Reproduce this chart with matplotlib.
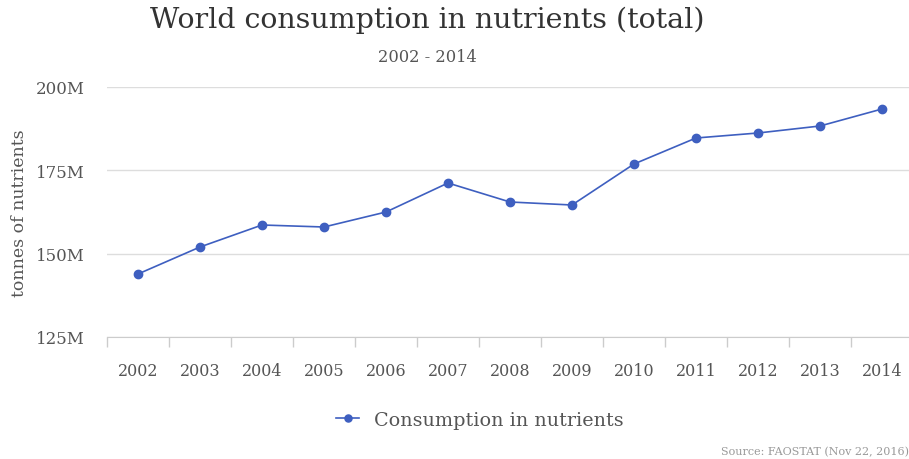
import matplotlib.pyplot as plt
from matplotlib.ticker import FuncFormatter

years = ["2002", "2003", "2004", "2005", "2006", "2007", "2008",
         "2009", "2010", "2011", "2012", "2013", "2014"]
consumption = [143.9, 152.0, 158.6, 158.0, 162.5, 171.2, 165.5,
               164.6, 176.9, 184.7, 186.2, 188.3, 193.4]  # millions of tonnes
y_ticks = [125, 150, 175, 200]

W, H = 909, 460
line_col = "#3e5fc0"
txt_col = "#555555"
grid_col = "#dddddd"

plt.rcParams["font.family"] = ["DejaVu Serif"]

fig = plt.figure(figsize=(W / 100, H / 100), dpi=100)
x0, x1 = 107, 913
ytop, ybot = 88, 338
ax = fig.add_axes([x0 / W, 1 - ybot / H, (x1 - x0) / W, (ybot - ytop) / H])

xs = list(range(len(years)))
ax.plot(xs, consumption, color=line_col, lw=1.2, marker="o", ms=6,
        clip_on=False, zorder=3, label="Consumption in nutrients")

ax.set_xlim(-0.5, len(years) - 0.5)
ax.set_ylim(125, 200)
ax.set_yticks(y_ticks)
ax.yaxis.set_major_formatter(FuncFormatter(lambda v, p: "%dM" % v))
ax.grid(axis="y", color=grid_col, lw=1)
ax.set_axisbelow(True)

# band boundaries as major ticks, years as labels at band centres
ax.set_xticks([i + 0.5 for i in range(-1, len(years))], minor=False)
ax.set_xticklabels([])
ax.set_xticks(xs, minor=True)
ax.set_xticklabels(years, minor=True)
ax.tick_params(axis="x", which="major", length=7, color="#cccccc", width=1)
ax.tick_params(axis="x", which="minor", length=0, pad=18, labelsize=11.5, labelcolor=txt_col)
ax.tick_params(axis="y", length=0, pad=16, labelsize=12, labelcolor=txt_col)

for s in ["top", "right", "left"]:
    ax.spines[s].set_visible(False)
ax.spines["bottom"].set_color("#cccccc")

ax.set_ylabel("tonnes of nutrients", fontsize=12.5, color=txt_col)
ax.yaxis.set_label_coords(-(x0 - 28) / (x1 - x0), 0.5)

fig.text(427 / W, 1 - 20 / H, "World consumption in nutrients (total)",
         ha="center", va="center", fontsize=20.5, color="#333333")
fig.text(427 / W, 1 - 57 / H, "2002 - 2014", ha="center", va="center",
         fontsize=11.7, color=txt_col)

leg = fig.legend(loc="center", bbox_to_anchor=(480 / W, 1 - 421 / H), frameon=False,
                 fontsize=13.8, handlelength=1.15, handletextpad=0.8,
                 labelcolor=txt_col, markerscale=0.85)

fig.text(909 / W, 1 - 452 / H, "Source: FAOSTAT (Nov 22, 2016)", ha="right",
         va="center", fontsize=8, color="#999999")

fig.savefig("out.png", dpi=100)
